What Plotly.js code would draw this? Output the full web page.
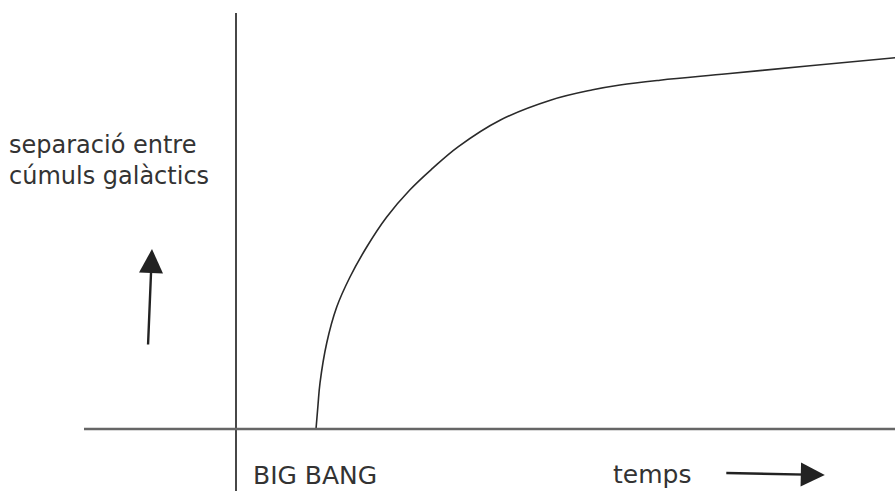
<!DOCTYPE html>
<html>
<head>
<meta charset="utf-8">
<script src="https://cdn.plot.ly/plotly-3.0.1.min.js"></script>
<style>html,body{margin:0;padding:0;background:#fff;}#chart{width:895px;height:491px;}</style>
</head>
<body>
<div id="chart"></div>
<script>
// Expansion curve: time (arbitrary units, Big Bang at t=1) vs separation between galaxy clusters
const time = [1.0, 1.025, 1.05, 1.134, 1.259, 1.425, 1.634, 1.884, 2.175, 2.46, 2.78, 3.3, 3.93, 4.46, 4.8, 5.3, 6.14, 7.175, 8.24];
const separation = [0, 0.3, 0.575, 1.075, 1.525, 1.9, 2.275, 2.65, 2.99, 3.26, 3.53, 3.86, 4.11, 4.24, 4.3, 4.36, 4.44, 4.54, 4.64];
const yLabel = "separació entre<br>cúmuls galàctics";
const bigBangLabel = "BIG BANG";
const xLabel = "temps";

const font = {family: "DejaVu Sans, Verdana, sans-serif", size: 25, color: "#333"};
const labelFont = {family: "DejaVu Sans, Verdana, sans-serif", size: 24, color: "#333"};

const trace = {
  x: time, y: separation, type: "scatter", mode: "lines",
  line: {color: "#2a2a2a", width: 1.6, shape: "spline", smoothing: 1.1},
  hoverinfo: "skip"
};

const layout = {
  width: 895, height: 491,
  margin: {l: 0, r: 0, t: 0, b: 0},
  paper_bgcolor: "#fff", plot_bgcolor: "#fff",
  showlegend: false,
  xaxis: {range: [-2.95, 8.2375], visible: false, fixedrange: true},
  yaxis: {range: [-0.775, 5.3625], visible: false, fixedrange: true},
  shapes: [
    {type: "line", xref: "x", yref: "y", x0: 0, x1: 0, y0: -0.8, y1: 5.2,
     line: {color: "#333", width: 1.8}},
    {type: "line", xref: "x", yref: "y", x0: -1.9, x1: 8.3, y0: 0, y1: 0,
     line: {color: "#666", width: 2.5}}
  ],
  annotations: [
    {xref: "paper", yref: "paper", x: 8/895, y: 1 - 160/491, xanchor: "left", yanchor: "middle",
     text: yLabel, align: "left", showarrow: false, font: labelFont, borderpad: 0},
    {xref: "x", yref: "paper", x: 0.2, y: 0, xanchor: "left", yanchor: "bottom",
     text: bigBangLabel, showarrow: false, font: font, borderpad: 0},
    {xref: "x", yref: "paper", x: 4.7, y: 0.003, xanchor: "left", yanchor: "bottom",
     text: xLabel, showarrow: false, font: font, borderpad: 0},
    // up arrow
    {xref: "x", yref: "y", x: -1.05, y: 2.25, ax: -4, ay: 97, axref: "pixel", ayref: "pixel",
     showarrow: true, arrowhead: 2, arrowsize: 2, arrowwidth: 2.4, arrowcolor: "#222", text: ""},
    // right arrow
    {xref: "x", yref: "y", x: 7.36, y: -0.575, ax: -100, ay: -2, axref: "pixel", ayref: "pixel",
     showarrow: true, arrowhead: 2, arrowsize: 2, arrowwidth: 2.4, arrowcolor: "#222", text: ""}
  ]
};

Plotly.newPlot("chart", [trace], layout, {staticPlot: true, displayModeBar: false});
</script>
</body>
</html>
